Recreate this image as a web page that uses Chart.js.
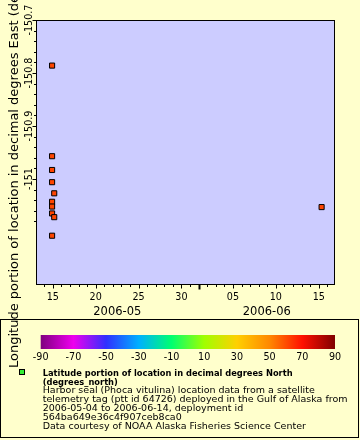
<!DOCTYPE html>
<html><head><meta charset="utf-8">
<script src="https://cdn.jsdelivr.net/npm/chart.js@4.4.1/dist/chart.umd.min.js"></script>
<style>html,body{margin:0;padding:0;background:#ffffcc;}#wrap{width:360px;height:440px;}</style>
</head><body><div id="wrap"><canvas id="c" width="360" height="440"></canvas></div>
<script>
// ---- data ----
const times = ['2006-05-14T22:00Z','2006-05-14T22:00Z','2006-05-14T22:00Z','2006-05-14T22:00Z','2006-05-15T04:00Z','2006-05-14T22:00Z','2006-05-14T22:00Z','2006-05-14T22:00Z','2006-05-15T04:00Z','2006-05-14T22:00Z','2006-06-15T08:00Z'];
const longitudes = [-150.786,-150.957,-150.983,-151.006,-151.027,-151.043,-151.052,-151.065,-151.072,-151.107,-151.053];
const xRange = ['2006-05-13T01:00Z','2006-06-16T21:30Z'];
const yRange = [-151.2,-150.7];
const xTickDays = [15,20,25,30,36,41,46];
const xTickLabels = ['15','20','25','30','05','10','15'];
const monthStartDays = [1,32,62];
const monthLabels = ['2006-05','2006-06'];
const yTickValues = [-150.7,-150.8,-150.9,-151.0];
const yTickLabels = ['-150.7','-150.8','-150.9','-151'];
const colorbarTicks = [-90,-70,-50,-30,-10,10,30,50,70,90];
const colorbarColors = ['#7f007f','#ee00ee','#3030ff','#00b0ff','#00ff70','#a0ff00','#ffd000','#ff8800','#ff1100','#800000'];
const yTitle = 'Longitude portion of location in decimal degrees East (degrees_east)';
const legendTitle = ['Latitude portion of location in decimal degrees North','(degrees_north)'];
const legendLines = ['Harbor seal (Phoca vitulina) location data from a satellite','telemetry tag (ptt id 64726) deployed in the Gulf of Alaska from','2006-05-04 to 2006-06-14, deployment id','564ba649e36c4f907ceb8ca0','Data courtesy of NOAA Alaska Fisheries Science Center'];

const DAY0 = Date.UTC(2006,4,1);
const toDay = t => (Date.parse(t) - DAY0)/86400000 + 1;
const points = times.map((t,i)=>({x: toDay(t), y: longitudes[i]}));

const FONT = '"DejaVu Sans", sans-serif';
const SMALL = '9.6px ' + FONT;

const deco = {
  id: 'deco',
  beforeDraw(chart){
    const ctx = chart.ctx, a = chart.chartArea;
    ctx.save();
    ctx.fillStyle = '#ffffcc';
    ctx.fillRect(0,0,chart.width,chart.height);
    ctx.fillStyle = '#ccccff';
    ctx.fillRect(a.left,a.top,a.right-a.left,a.bottom-a.top);
    ctx.restore();
  },
  afterDraw(chart){
    const ctx = chart.ctx, a = chart.chartArea;
    const xs = chart.scales.x, ys = chart.scales.y;
    ctx.save();
    ctx.strokeStyle = '#000'; ctx.lineWidth = 1;
    ctx.strokeRect(Math.round(a.left)+0.5, Math.round(a.top)+0.5, Math.round(a.right-a.left)-1, Math.round(a.bottom-a.top)-1);
    const bottom = Math.round(a.bottom) - 0.5;
    const left = Math.round(a.left) + 0.5;
    // x tick marks (daily minor, 5-day major, month boundary)
    for (let d = Math.ceil(xs.min); d <= xs.max; d++) {
      const px = Math.round(xs.getPixelForValue(d)) + 0.5;
      const isMonth = monthStartDays.includes(d);
      const isMajor = xTickDays.includes(d);
      ctx.lineWidth = isMonth ? 2 : 1;
      const len = isMonth ? 5 : (isMajor ? 4 : 2.5);
      ctx.beginPath(); ctx.moveTo(px, bottom); ctx.lineTo(px, bottom + len); ctx.stroke();
    }
    ctx.lineWidth = 1;
    // y tick marks
    for (let k = 0; k < 20; k++) {
      const v = yRange[1] - k*0.02;
      const py = Math.round(ys.getPixelForValue(v)) + 0.5;
      const len = (k % 5 === 0) ? 4 : 2.5;
      ctx.beginPath(); ctx.moveTo(left, py); ctx.lineTo(left - len, py); ctx.stroke();
    }
    ctx.fillStyle = '#000';
    // x tick labels
    ctx.font = SMALL; ctx.textAlign = 'center'; ctx.textBaseline = 'alphabetic';
    xTickDays.forEach((d,i)=>{ ctx.fillText(xTickLabels[i], xs.getPixelForValue(d), 299.5); });
    // month labels
    ctx.font = '11.5px ' + FONT;
    monthLabels.forEach((m,i)=>{
      const l = Math.max(xs.getPixelForValue(monthStartDays[i]), a.left);
      const r = Math.min(xs.getPixelForValue(monthStartDays[i+1]), a.right);
      ctx.fillText(m, (l+r)/2, 314.5);
    });
    // y tick labels (rotated)
    ctx.font = SMALL;
    yTickValues.forEach((v,i)=>{
      ctx.save(); ctx.translate(32, ys.getPixelForValue(v)); ctx.rotate(-Math.PI/2);
      ctx.textAlign = 'center'; ctx.textBaseline = 'alphabetic';
      ctx.fillText(yTickLabels[i], 0, 0); ctx.restore();
    });
    // legend box
    ctx.strokeStyle = '#000'; ctx.lineWidth = 1;
    ctx.strokeRect(0.5, 319.5, 358, 118);
    // y title
    ctx.save(); ctx.translate(17.5, 368); ctx.rotate(-Math.PI/2);
    ctx.font = '13px ' + FONT; ctx.textAlign = 'left'; ctx.textBaseline = 'alphabetic';
    ctx.fillText(yTitle, 0, 0); ctx.restore();
    // colorbar
    const cbL = 40.7, cbR = 335, cbT = 335, cbB = 349;
    const g = ctx.createLinearGradient(cbL,0,cbR,0);
    colorbarColors.forEach((c,i)=> g.addColorStop(i/(colorbarColors.length-1), c));
    ctx.fillStyle = g; ctx.fillRect(cbL, cbT, cbR-cbL, cbB-cbT);
    ctx.fillStyle = '#000'; ctx.font = SMALL; ctx.textAlign = 'center';
    colorbarTicks.forEach(t=>{
      const px = cbL + (t - colorbarTicks[0])/(colorbarTicks[colorbarTicks.length-1]-colorbarTicks[0])*(cbR-cbL);
      ctx.fillText(String(t), px, 359.5);
    });
    // legend marker
    ctx.fillStyle = '#33ee33'; ctx.fillRect(20, 370, 4, 4);
    ctx.strokeRect(19.5, 369.5, 5, 5);
    // legend text
    ctx.fillStyle = '#000'; ctx.textAlign = 'left';
    ctx.font = 'bold 8.3px ' + FONT;
    ctx.fillText(legendTitle[0], 42.7, 376);
    ctx.fillText(legendTitle[1], 42.7, 384.7);
    ctx.font = '9.5px ' + FONT;
    legendLines.forEach((s,i)=> ctx.fillText(s, 42.7, 393.3 + i*8.9));
    ctx.restore();
  }
};

new Chart(document.getElementById('c'), {
  type: 'scatter',
  data: { datasets: [{
    data: points,
    pointStyle: 'rect', pointRadius: 3.6, pointHoverRadius: 3.6,
    backgroundColor: '#ff4500', borderColor: '#000', borderWidth: 1
  }]},
  options: {
    responsive: false, animation: false, devicePixelRatio: 1,
    layout: { padding: { left: 36, top: 20, right: 25, bottom: 155 } },
    plugins: { legend: { display: false }, tooltip: { enabled: false } },
    scales: {
      x: { type: 'linear', display: false, min: toDay(xRange[0]), max: toDay(xRange[1]) },
      y: { type: 'linear', display: false, min: yRange[0], max: yRange[1] }
    }
  },
  plugins: [deco]
});
</script></body></html>
